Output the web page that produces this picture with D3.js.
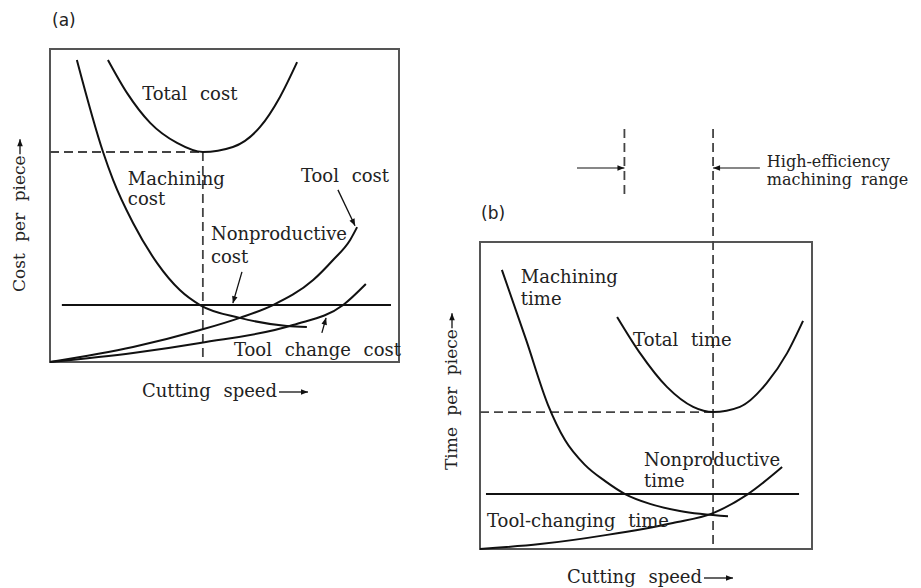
<!DOCTYPE html>
<html>
<head>
<meta charset="utf-8">
<script src="https://cdn.jsdelivr.net/npm/d3@7"></script>
<style>
  body { margin: 0; background: #fff; }
  text { font-family: "DejaVu Serif", serif; font-size: 18px; fill: #222; word-spacing: 7px; }
</style>
</head>
<body>
<svg id="chart" width="921" height="588"></svg>
<script>
// (a) cost per piece vs cutting speed, both axes 0-100
var totalCostSpeed = [16.6, 22.1, 28.7, 36.4, 43.8, 52.4, 60.2, 65.9, 70.8];
var totalCost = [96.5, 85.9, 76.4, 70.0, 67.1, 68.7, 75.1, 84.7, 95.8];
var machCostSpeed = [7.7, 15.2, 18.1, 23.8, 30.7, 37.2, 43.0, 54.4, 67.9, 73.6];
var machCost = [96.5, 67.1, 58.1, 44.4, 31.6, 23.0, 18.2, 14.1, 11.5, 11.2];
var toolCostSpeed = [0, 23.8, 43.0, 54.4, 63.9, 75.4, 81.1, 86.0, 88.0];
var toolCost = [0, 4.8, 10.2, 14.1, 18.2, 26.2, 32.6, 39.0, 43.1];
var changeCostSpeed = [0, 23.8, 43.0, 69.6, 84.0, 90.5];
var changeCost = [0, 2.9, 6.1, 11.8, 18.2, 24.9];
var nonprodCostSpeed = [3.4, 97.7];
var nonprodCost = [18.2, 18.2];
var minCost = [43.8, 67.1];

// (b) time per piece vs cutting speed
var machTimeSpeed = [6.6, 13.9, 20.5, 25.6, 31.6, 37.7, 43.7, 51.2, 60.2, 74.7];
var machTime = [90.9, 68.1, 46.9, 35.5, 27.4, 22.1, 17.9, 14.7, 12.4, 10.7];
var totalTimeSpeed = [41.3, 48.2, 56.3, 64.2, 70.2, 78.3, 86.4, 92.5, 97.3];
var totalTime = [75.6, 63.8, 52.8, 46.3, 44.6, 46.3, 54.1, 63.8, 74.3];
var changeTimeSpeed = [0, 18.1, 38.3, 58.1, 70.2, 80.7, 91.0];
var changeTime = [0, 1.6, 4.6, 8.5, 11.7, 17.9, 26.7];
var nonprodTimeSpeed = [1.8, 96.1];
var nonprodTime = [17.9, 17.9];
var minTime = [70.2, 44.6];
var rangeStart = 43.5;

var svg = d3.select("#chart");
var defs = svg.append("defs");
defs.append("marker")
    .attr("id", "arr")
    .attr("viewBox", "0 0 10 10")
    .attr("refX", 10).attr("refY", 5)
    .attr("markerWidth", 9).attr("markerHeight", 7)
    .attr("markerUnits", "userSpaceOnUse")
    .attr("orient", "auto")
  .append("path")
    .attr("d", "M0,1L10,5L0,9Z")
    .attr("fill", "#111");

var line = function(x, y) {
  return d3.line().x(d => x(d[0])).y(d => y(d[1])).curve(d3.curveMonotoneX);
};

function curve(g, x, y, xs, ys) {
  g.append("path")
    .datum(d3.zip(xs, ys))
    .attr("d", line(x, y))
    .attr("fill", "none")
    .attr("stroke", "#111")
    .attr("stroke-width", 2);
}

function dashed(g, x1, y1, x2, y2) {
  g.append("line")
    .attr("x1", x1).attr("y1", y1).attr("x2", x2).attr("y2", y2)
    .attr("stroke", "#444").attr("stroke-width", 1.8)
    .attr("stroke-dasharray", "9,5");
}

function arrow(g, x1, y1, x2, y2, w) {
  g.append("line")
    .attr("x1", x1).attr("y1", y1).attr("x2", x2).attr("y2", y2)
    .attr("stroke", "#111").attr("stroke-width", w || 1.3)
    .attr("marker-end", "url(#arr)");
}

function label(g, x, y, lines, dy, size) {
  lines.forEach(function(s, i) {
    var t = g.append("text").attr("x", x).attr("y", y + i * (dy || 21)).text(s);
    if (size) t.style("font-size", size + "px").style("word-spacing", "4px");
  });
}

function xLabel(px, py, t) {
  var txt = svg.append("text").attr("x", px).attr("y", py).text(t);
  var w = txt.node().getComputedTextLength();
  arrow(svg, px + w + 2, py - 5, px + w + 31, py - 5, 1.3);
}

function yLabel(px, py, t) {
  var g = svg.append("g").attr("transform", "translate(" + px + "," + py + ") rotate(-90)");
  var txt = g.append("text").attr("x", 0).attr("y", 0)
    .style("font-size", "17px").style("word-spacing", "6px").text(t);
  var w = txt.node().getComputedTextLength();
  arrow(g, w + 1, -5, w + 16, -5, 1.3);
}

function box(g, w, h) {
  g.append("rect").attr("width", w).attr("height", h)
    .attr("fill", "none").attr("stroke", "#555").attr("stroke-width", 2);
}

// ---- panel (a)
var wa = 349, ha = 313;
var ga = svg.append("g").attr("transform", "translate(50,49)");
var xa = d3.scaleLinear().domain([0, 100]).range([0, wa]);
var ya = d3.scaleLinear().domain([0, 100]).range([ha, 0]);

svg.append("text").attr("x", 52).attr("y", 26).style("font-family", "'DejaVu Sans'").style("font-size", "17px").text("(a)");
box(ga, wa, ha);
dashed(ga, xa(0), ya(minCost[1]), xa(minCost[0]), ya(minCost[1]));
dashed(ga, xa(minCost[0]), ya(minCost[1]), xa(minCost[0]), ya(0));
curve(ga, xa, ya, totalCostSpeed, totalCost);
curve(ga, xa, ya, machCostSpeed, machCost);
curve(ga, xa, ya, toolCostSpeed, toolCost);
curve(ga, xa, ya, changeCostSpeed, changeCost);
curve(ga, xa, ya, nonprodCostSpeed, nonprodCost);

label(ga, xa(26.4), ya(83.7), ["Total cost"]);
label(ga, xa(22.3), ya(56.5), ["Machining", "cost"], 20);
label(ga, xa(71.9), ya(57.5), ["Tool cost"]);
label(ga, xa(46.1), ya(39.0), ["Nonproductive", "cost"], 23);
label(ga, xa(52.7), ya(1.9), ["Tool change cost"]);
arrow(ga, xa(82.5), ya(55.0), xa(87.4), ya(43.5));
arrow(ga, xa(55.0), ya(28.8), xa(52.4), ya(18.8));
arrow(ga, xa(77.9), ya(9.3), xa(79.1), ya(14.1));

yLabel(25, 292, "Cost per piece");
xLabel(142, 397, "Cutting speed");

// ---- panel (b)
var wb = 332, hb = 307;
var gb = svg.append("g").attr("transform", "translate(480,242)");
var xb = d3.scaleLinear().domain([0, 100]).range([0, wb]);
var yb = d3.scaleLinear().domain([0, 100]).range([hb, 0]);

svg.append("text").attr("x", 481).attr("y", 219).style("font-family", "'DejaVu Sans'").style("font-size", "17px").text("(b)");
box(gb, wb, hb);
dashed(gb, xb(0), yb(minTime[1]), xb(minTime[0]), yb(minTime[1]));
dashed(gb, xb(minTime[0]), yb(136.8), xb(minTime[0]), yb(0));
dashed(gb, xb(rangeStart), yb(136.8), xb(rangeStart), yb(114.3));
arrow(gb, xb(29.2), yb(124.1), xb(rangeStart), yb(124.1), 1.2);
arrow(gb, xb(84.3), yb(124.1), xb(minTime[0]), yb(124.1), 1.2);
label(gb, xb(86.4), yb(124.4), ["High-efficiency", "machining range"], 18, 16);

curve(gb, xb, yb, machTimeSpeed, machTime);
curve(gb, xb, yb, totalTimeSpeed, totalTime);
curve(gb, xb, yb, changeTimeSpeed, changeTime);
curve(gb, xb, yb, nonprodTimeSpeed, nonprodTime);

label(gb, xb(12.3), yb(86.6), ["Machining", "time"], 22);
label(gb, xb(46.1), yb(66.1), ["Total time"]);
label(gb, xb(49.4), yb(27.0), ["Nonproductive", "time"], 21);
label(gb, xb(2.1), yb(7.2), ["Tool-changing time"]);

yLabel(457, 470, "Time per piece");
xLabel(567, 583, "Cutting speed");
</script>
</body>
</html>
